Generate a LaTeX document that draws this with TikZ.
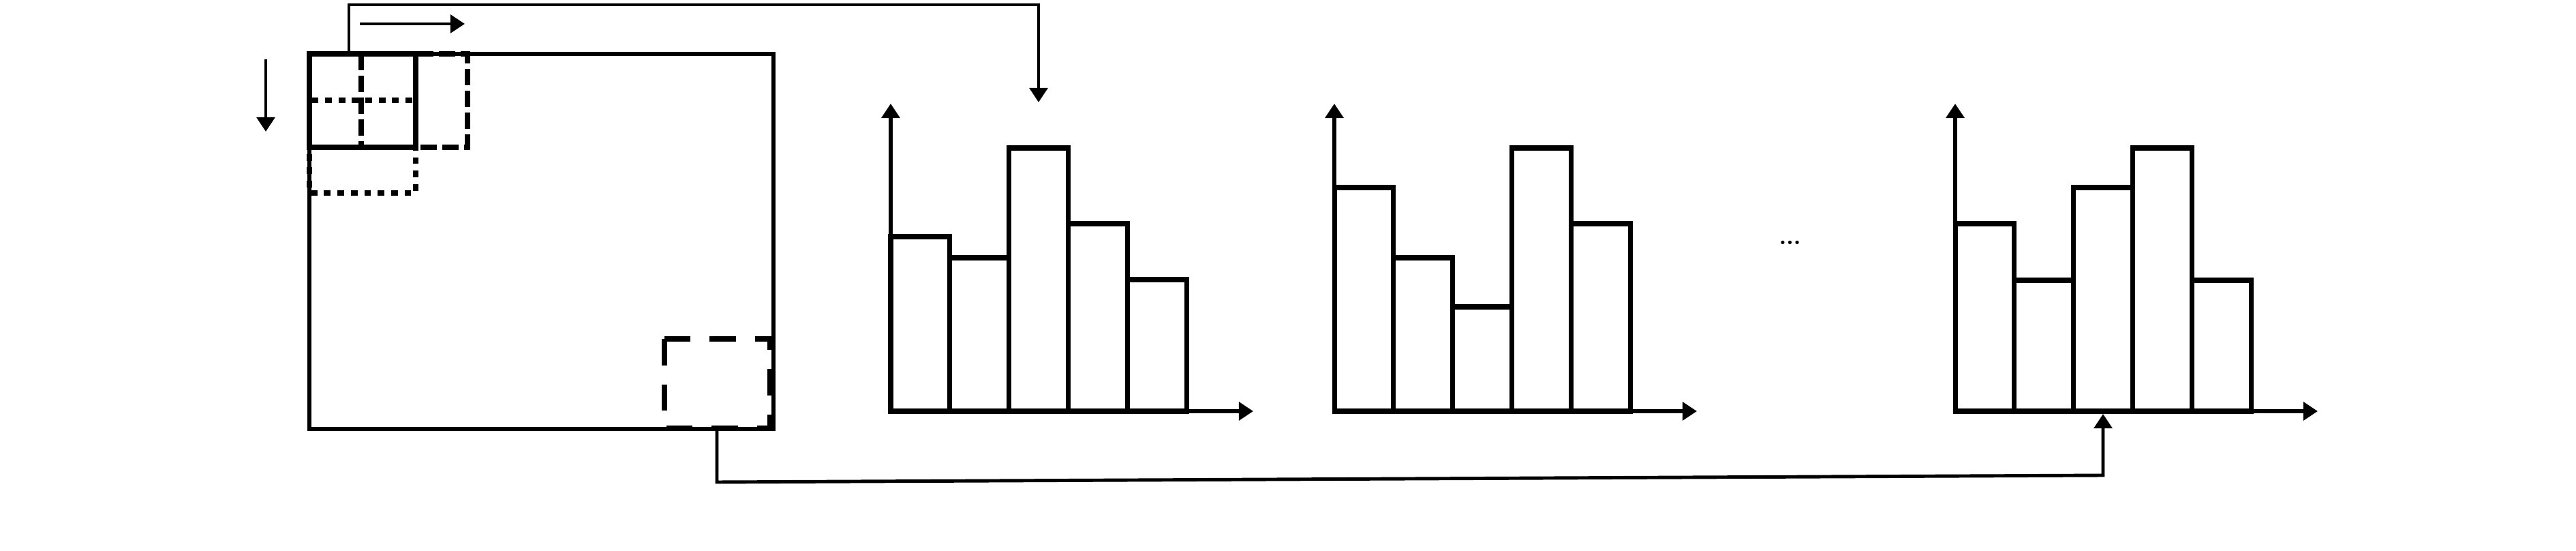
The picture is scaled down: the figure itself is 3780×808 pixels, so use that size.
\documentclass[tikz,border=0pt]{standalone}
\usetikzlibrary{arrows.meta}
\begin{document}
\begin{tikzpicture}[x=0.1mm,y=-0.1mm,
  tip/.style={-{Triangle[length=6pt,width=7.5pt]}},
  conn/.style={line width=1.4pt,tip},
  axisline/.style={line width=1.6pt,tip},
  bar/.style={draw,line width=2pt},
  frame/.style={draw,line width=1.6pt},
  win/.style={draw,line width=2.4pt},
  winshift/.style={draw,line width=2.4pt,dash pattern=on 6.8pt off 2.3pt},
  windown/.style={draw,line width=2.2pt,dash pattern=on 2.8pt off 2.8pt},
  winlast/.style={draw,line width=2.4pt,dash pattern=on 11pt off 8pt},
  dots/.style={font=\fontsize{18}{20}\selectfont}]
\useasboundingbox (0,0) rectangle (3780,808);
% image and sliding windows
\draw[frame] (454,79) coordinate (imgTL) rectangle (1135,629) coordinate (imgBR);
\draw[windown] (454,147) rectangle (610,283);
\draw[winshift] (530,79) rectangle (686,216);
\draw[win] (454,79) rectangle (610,216);
\draw[winlast] (975,497) rectangle (1130,628);
% direction arrows
\coordinate (rA) at (528,35); \coordinate (rB) at (682,35);
\coordinate (dA) at (390,87); \coordinate (dB) at (390,193);
\draw[conn] (rA) -- (rB);
\draw[conn] (dA) -- (dB);
% histograms
\foreach \t [count=\i from 0] in {347,378,217,328,410}
  \draw[bar] ({1307+86.8*\i},603) rectangle ({1307+86.8*(\i+1)},\t);
\foreach \t [count=\i from 0] in {275,378,450,217,328}
  \draw[bar] ({1958+86.8*\i},603) rectangle ({1958+86.8*(\i+1)},\t);
\foreach \t [count=\i from 0] in {328,411,275,217,411}
  \draw[bar] ({2869+86.8*\i},603) rectangle ({2869+86.8*(\i+1)},\t);
\foreach \o/\n in {1307/a,1958/b,2869/c}{
  \coordinate (o\n) at (\o,603);
  \draw[axisline] (o\n) -- ++(0,-451);
  \draw[axisline] (o\n) -- ++(532,0);
}
\node[dots] (ell) at (2627,356) {\ldots};
% connectors
\coordinate (t0) at (512,79);
\coordinate (t1) at (1524,150);
\draw[conn] (t0) -- (512,7) -- (1524,7) -- (t1);
\coordinate (b0) at (1052,629);
\coordinate (b1) at (3086,607);
\draw[conn] (b0) -- (1052,707) -- (3086,697) -- (b1);
\end{tikzpicture}
\end{document}
